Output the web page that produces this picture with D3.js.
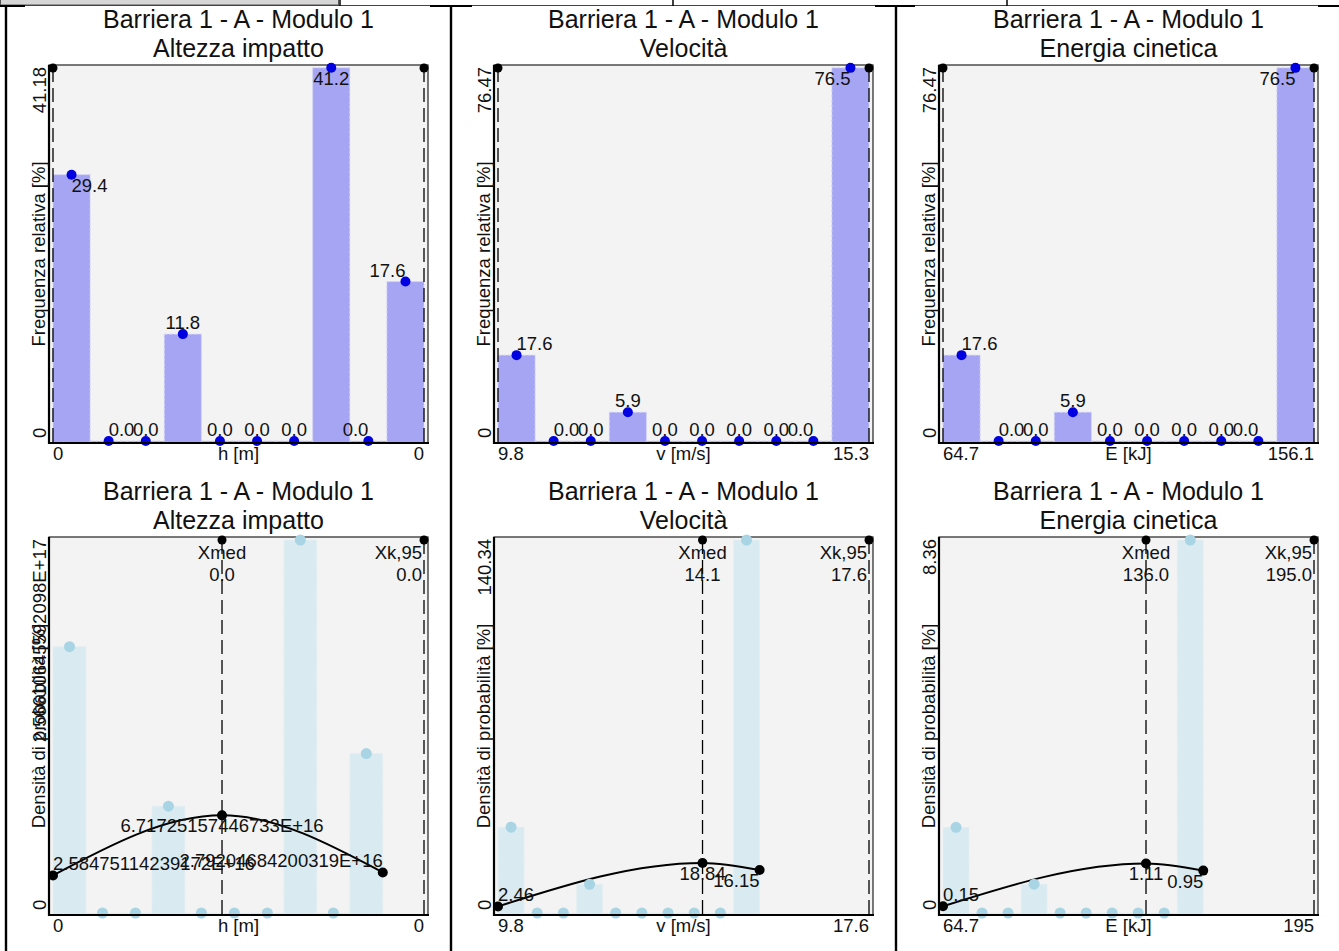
<!DOCTYPE html>
<html>
<head>
<meta charset="utf-8">
<script src="https://d3js.org/d3.v7.min.js"></script>
<style>
body{margin:0;background:#fff}
svg{display:block;font-family:"Liberation Sans",Arial,sans-serif}
.title{font-size:25px;fill:#111}
.label{font-size:18.5px;fill:#111}
</style>
</head>
<body>
<svg id="sheet"></svg>
<script>
var titleLine = "Barriera 1 - A - Modulo 1"
var subtitles = ["Altezza impatto", "Velocità", "Energia cinetica"]
var unitLabels = ["h [m]", "v [m/s]", "E [kJ]"]

// top row: relative frequency, 10 bins
var freqH = [29.4, 0.0, 0.0, 11.8, 0.0, 0.0, 0.0, 41.2, 0.0, 17.6]
var freqV = [17.6, 0.0, 0.0, 5.9, 0.0, 0.0, 0.0, 0.0, 0.0, 76.5]
var freqE = [17.6, 0.0, 0.0, 5.9, 0.0, 0.0, 0.0, 0.0, 0.0, 76.5]
var freqMax = [41.18, 76.47, 76.47]
var freqMaxLabels = ["41.18", "76.47", "76.47"]

var rangeH = [0, 1.6e-15]
var rangeV = [9.8, 15.3]
var rangeE = [64.7, 156.1]
var rangeLabels = [["0", "0"], ["9.8", "15.3"], ["64.7", "156.1"]]

// bottom row: probability density
var densH = [1.832e17, 0, 0, 7.35e16, 0, 0, 0, 2.566e17, 0, 1.097e17]
var densV = [32.3, 0, 0, 10.8, 0, 0, 0, 0, 0, 140.34]
var densE = [1.92, 0, 0, 0.645, 0, 0, 0, 0, 0, 8.36]
var densMax = [2.566e17, 140.34, 8.36]
var densMaxLabels = ["2.56610645592098E+17", "140.34", "8.36"]

var pdfXH = [0, 8.2e-16, 1.6e-15]
var pdfYH = [2.58475114239172e16, 6.71725157446733e16, 2.79204684200319e16]
var pdfLabelsH = ["2.58475114239172E+16", "6.71725157446733E+16", "2.79204684200319E+16"]
var pdfXV = [9.8, 14.1, 15.3]
var pdfYV = [2.46, 18.84, 16.15]
var pdfLabelsV = ["2.46", "18.84", "16.15"]
var pdfXE = [64.7, 136.0, 156.1]
var pdfYE = [0.15, 1.11, 0.95]
var pdfLabelsE = ["0.15", "1.11", "0.95"]

var xMed = [8.2e-16, 14.1, 136.0]
var xMedLabels = ["0.0", "14.1", "136.0"]
var xK95 = [1.8e-15, 17.6, 195.0]
var xK95Labels = ["0.0", "17.6", "195.0"]
var densAxisLabels = [["0", "0"], ["9.8", "17.6"], ["64.7", "195"]]

// label placement (t = above, b = below; r = start, l = end)
var freqPlace = [
    ["br", "tr", "t", "t", "t", "t", "t", "b", "tl", "tl"],
    ["tr", "tr", "t", "t", "t", "t", "t", "t", "tl", "bl"],
    ["tr", "tr", "t", "t", "t", "t", "t", "t", "tl", "bl"]
]
var pdfPlace = [["tr", "b", "tl"], ["tr", "b", "bl"], ["tr", "b", "bl"]]

var screen = {width: 1339, height: 951}
var cellX = [0, 445, 890]
var cellY = [0, 472]
var plot = {left: 49, right: 428, top: 65, bottom: 443}

var svg = d3.select("#sheet")
    .attr("width", screen.width)
    .attr("height", screen.height)

var makeTranslateString = function(x, y)
{
    return "translate(" + x + "," + y + ")"
}

var placeLabel = function(sel, code, cx, cy)
{
    var side = code.charAt(1)
    sel.attr("x", cx)
        .attr("y", code.charAt(0) == "b" ? cy + 17 : cy - 5)
        .attr("text-anchor", side == "r" ? "start" : side == "l" ? "end" : "middle")
}

var drawFrame = function(g, col)
{
    g.append("text").classed("title", true)
        .attr("text-anchor", "middle")
        .attr("x", (plot.left + plot.right) / 2).attr("y", 28)
        .text(titleLine)
    g.append("text").classed("title", true)
        .attr("text-anchor", "middle")
        .attr("x", (plot.left + plot.right) / 2).attr("y", 57)
        .text(subtitles[col])

    g.append("rect")
        .attr("x", plot.left).attr("y", plot.top)
        .attr("width", plot.right - plot.left)
        .attr("height", plot.bottom - plot.top)
        .attr("fill", "#f3f3f3")
        .attr("stroke", "#222")
        .attr("stroke-width", 1.2)
}

var drawAxes = function(g, col, xScale, yScale, yTitle, yTopLabel, xLabels)
{
    g.append("line")
        .attr("x1", plot.left).attr("x2", plot.left)
        .attr("y1", plot.top).attr("y2", plot.bottom + 1)
        .attr("stroke", "#000").attr("stroke-width", 2.2)
    g.append("line")
        .attr("x1", plot.left - 1).attr("x2", plot.right + 1)
        .attr("y1", plot.bottom).attr("y2", plot.bottom)
        .attr("stroke", "#000").attr("stroke-width", 2.2)

    var d = xScale.domain()
    g.append("text").classed("label", true)
        .attr("x", xScale(d[0])).attr("y", 460)
        .attr("text-anchor", "start").text(xLabels[0])
    g.append("text").classed("label", true)
        .attr("x", (plot.left + plot.right) / 2).attr("y", 460)
        .attr("text-anchor", "middle").text(unitLabels[col])
    g.append("text").classed("label", true)
        .attr("x", xScale(d[1])).attr("y", 460)
        .attr("text-anchor", "end").text(xLabels[1])

    var yd = yScale.domain()
    g.append("text").classed("label", true)
        .attr("transform", makeTranslateString(46, yScale(yd[0]) - 3) + " rotate(-90)")
        .attr("text-anchor", "start").text("0")
    g.append("text").classed("label", true)
        .attr("transform", makeTranslateString(46, yScale(yd[1]) - 1) + " rotate(-90)")
        .attr("text-anchor", "end").text(yTopLabel)
    g.append("text").classed("label", true)
        .attr("transform", makeTranslateString(45, (plot.top + plot.bottom) / 2) + " rotate(-90)")
        .attr("text-anchor", "middle").text(yTitle)
}

var binEdges = function(range)
{
    var step = (range[1] - range[0]) / 10
    return d3.range(11).map(function(i) { return range[0] + i * step })
}

var drawMarker = function(g, x, y1, y2)
{
    g.append("line")
        .attr("x1", x).attr("x2", x)
        .attr("y1", y1).attr("y2", y2)
        .attr("stroke", "#000").attr("stroke-width", 1.3)
        .attr("stroke-dasharray", "14,6")
    g.append("circle")
        .attr("cx", x).attr("cy", y1).attr("r", 4.5)
        .attr("fill", "#000")
}

var drawFreqPanel = function(col, values, range)
{
    var g = svg.append("g").attr("transform", makeTranslateString(cellX[col], cellY[0]))
    drawFrame(g, col)

    var xScale = d3.scaleLinear().domain(range).range([plot.left + 4, plot.right - 4])
    var yScale = d3.scaleLinear().domain([0, freqMax[col]]).range([plot.bottom - 2, plot.top + 3])
    var edges = binEdges(range)

    g.selectAll("rect.bar")
        .data(values)
        .enter()
        .append("rect")
        .classed("bar", true)
        .attr("x", function(v, i) { return xScale(edges[i]) })
        .attr("width", function(v, i) { return xScale(edges[i + 1]) - xScale(edges[i]) })
        .attr("y", function(v) { return yScale(v) })
        .attr("height", function(v) { return plot.bottom - yScale(v) })
        .attr("fill", "#a5a5f4")
        .attr("stroke", "#d2d2f6")
        .attr("stroke-width", 1)
        .attr("stroke-dasharray", "3,2")

    drawMarker(g, xScale(range[0]), yScale(freqMax[col]), plot.bottom)
    drawMarker(g, xScale(range[1]), yScale(freqMax[col]), plot.bottom)

    g.selectAll("circle.pt")
        .data(values)
        .enter()
        .append("circle")
        .classed("pt", true)
        .attr("cx", function(v, i) { return xScale((edges[i] + edges[i + 1]) / 2) })
        .attr("cy", function(v) { return yScale(v) })
        .attr("r", 5)
        .attr("fill", "#0000e0")

    g.selectAll("text.val")
        .data(values)
        .enter()
        .append("text")
        .classed("label", true)
        .each(function(v, i)
        {
            placeLabel(d3.select(this), freqPlace[col][i],
                xScale((edges[i] + edges[i + 1]) / 2), yScale(v))
        })
        .text(function(v) { return v.toFixed(1) })

    drawAxes(g, col, xScale, yScale, "Frequenza relativa [%]", freqMaxLabels[col], rangeLabels[col])
}

var drawDensPanel = function(col, values, range, pdfX, pdfY, pdfLabels)
{
    var g = svg.append("g").attr("transform", makeTranslateString(cellX[col], cellY[1]))
    drawFrame(g, col)

    var xScale = d3.scaleLinear().domain([range[0], xK95[col]]).range([plot.left + 4, plot.right - 4])
    var yScale = d3.scaleLinear().domain([0, densMax[col]]).range([plot.bottom - 2, plot.top + 3])
    var edges = binEdges(range)

    g.selectAll("rect.bar")
        .data(values)
        .enter()
        .append("rect")
        .classed("bar", true)
        .attr("x", function(v, i) { return xScale(edges[i]) })
        .attr("width", function(v, i) { return xScale(edges[i + 1]) - xScale(edges[i]) })
        .attr("y", function(v) { return yScale(v) })
        .attr("height", function(v) { return plot.bottom - yScale(v) })
        .attr("fill", "#d9eaf0")
        .attr("stroke", "#e6f0f3")
        .attr("stroke-width", 1)
        .attr("stroke-dasharray", "3,2")

    drawMarker(g, xScale(xMed[col]), yScale(densMax[col]), plot.bottom)
    drawMarker(g, xScale(xK95[col]), yScale(densMax[col]), plot.bottom)

    var pts = pdfX.map(function(x, i) { return [x, pdfY[i]] })
    var line = d3.line()
        .x(function(p) { return xScale(p[0]) })
        .y(function(p) { return yScale(p[1]) })
        .curve(d3.curveMonotoneX)
    g.append("path")
        .datum(pts)
        .attr("d", line)
        .attr("fill", "none")
        .attr("stroke", "#000")
        .attr("stroke-width", 2)

    g.selectAll("circle.pt")
        .data(values)
        .enter()
        .append("circle")
        .classed("pt", true)
        .attr("cx", function(v, i) { return xScale((edges[i] + edges[i + 1]) / 2) })
        .attr("cy", function(v) { return yScale(v) })
        .attr("r", 5.5)
        .attr("fill", "#a8d4e4")

    g.selectAll("circle.pdf")
        .data(pts)
        .enter()
        .append("circle")
        .classed("pdf", true)
        .attr("cx", function(p) { return xScale(p[0]) })
        .attr("cy", function(p) { return yScale(p[1]) })
        .attr("r", 5)
        .attr("fill", "#000")

    g.selectAll("text.pdfval")
        .data(pts)
        .enter()
        .append("text")
        .classed("label", true)
        .each(function(p, i)
        {
            placeLabel(d3.select(this), pdfPlace[col][i], xScale(p[0]), yScale(p[1]))
        })
        .text(function(p, i) { return pdfLabels[i] })

    g.append("text").classed("label", true)
        .attr("x", xScale(xMed[col])).attr("y", plot.top + 22)
        .attr("text-anchor", "middle").text("Xmed")
    g.append("text").classed("label", true)
        .attr("x", xScale(xMed[col])).attr("y", plot.top + 44)
        .attr("text-anchor", "middle").text(xMedLabels[col])
    g.append("text").classed("label", true)
        .attr("x", xScale(xK95[col]) - 2).attr("y", plot.top + 22)
        .attr("text-anchor", "end").text("Xk,95")
    g.append("text").classed("label", true)
        .attr("x", xScale(xK95[col]) - 2).attr("y", plot.top + 44)
        .attr("text-anchor", "end").text(xK95Labels[col])

    drawAxes(g, col, xScale, yScale, "Densità di probabilità [%]", densMaxLabels[col], densAxisLabels[col])
}

var drawSheet = function()
{
    // header strip and table borders
    svg.append("rect")
        .attr("x", 0.5).attr("y", -1).attr("width", 338).attr("height", 6)
        .attr("fill", "#d6d6d6").attr("stroke", "#555").attr("stroke-width", 1)
    svg.append("line")
        .attr("x1", 0).attr("x2", screen.width).attr("y1", 5.5).attr("y2", 5.5)
        .attr("stroke", "#444").attr("stroke-width", 1)
    ;[340, 673, 1007].forEach(function(x)
    {
        svg.append("line")
            .attr("x1", x).attr("x2", x).attr("y1", 0).attr("y2", 6)
            .attr("stroke", "#000").attr("stroke-width", 1.5)
    })
    ;[[0, 25], [430, 472], [875, 915], [1318, 1339]].forEach(function(s)
    {
        svg.append("line")
            .attr("x1", s[0]).attr("x2", s[1]).attr("y1", 6).attr("y2", 6)
            .attr("stroke", "#000").attr("stroke-width", 2)
    })
    ;[6, 451, 896].forEach(function(x)
    {
        svg.append("line")
            .attr("x1", x).attr("x2", x).attr("y1", 5).attr("y2", screen.height)
            .attr("stroke", "#000").attr("stroke-width", 2.4)
    })

    drawFreqPanel(0, freqH, rangeH)
    drawFreqPanel(1, freqV, rangeV)
    drawFreqPanel(2, freqE, rangeE)
    drawDensPanel(0, densH, rangeH, pdfXH, pdfYH, pdfLabelsH)
    drawDensPanel(1, densV, rangeV, pdfXV, pdfYV, pdfLabelsV)
    drawDensPanel(2, densE, rangeE, pdfXE, pdfYE, pdfLabelsE)
}

drawSheet()
</script>
</body>
</html>
